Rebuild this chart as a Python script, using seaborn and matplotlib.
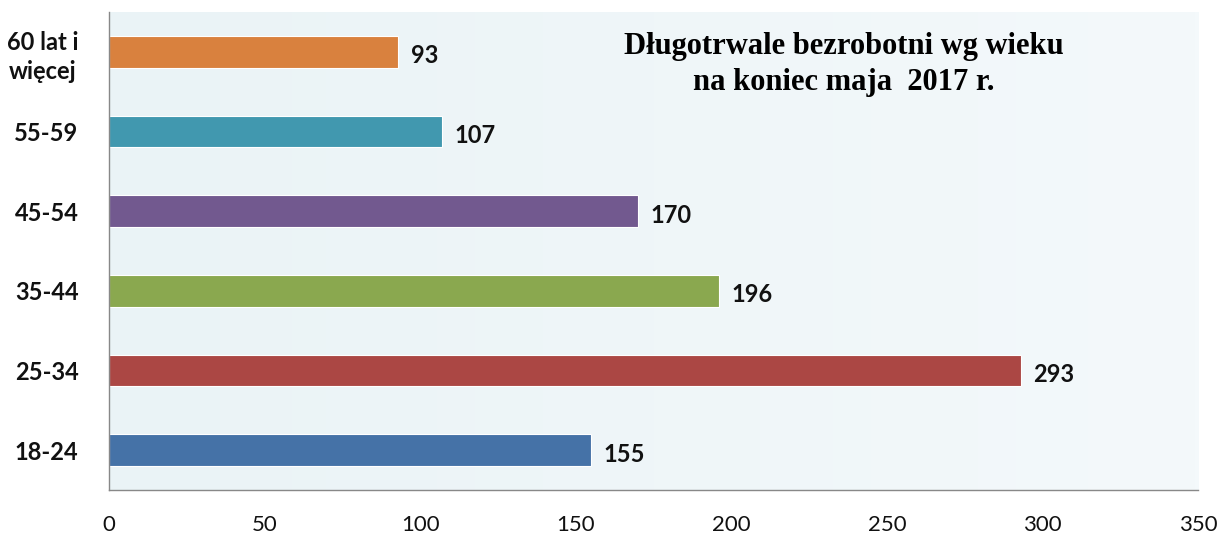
import numpy as np
import pandas as pd
import matplotlib
matplotlib.use('Agg')
import matplotlib.pyplot as plt
import seaborn as sns

# dane z wykresu (od góry do dołu)
grupy_wieku = ['60 lat i\nwięcej', '55-59', '45-54', '35-44', '25-34', '18-24']
liczba_osob = [93, 107, 170, 196, 293, 155]
kolory = ['#d9813e', '#4198af', '#72598f', '#8aa84f', '#ab4744', '#4572a7']
x_ticks = [0, 50, 100, 150, 200, 250, 300, 350]

df = pd.DataFrame({'grupa': grupy_wieku, 'liczba': liczba_osob})

sns.set_style('white')
plt.rcParams['font.family'] = ['Lato', 'DejaVu Sans']

fig = plt.figure(figsize=(12.19, 5.35), dpi=100)
ax = fig.add_axes([0.0894, 0.0841, 0.8934, 0.8935])

# tło z delikatnym gradientem
grad = np.linspace(0, 1, 256).reshape(1, -1)
ax.imshow(grad, extent=[0, 1, 0, 1], transform=ax.transAxes, aspect='auto',
          cmap=matplotlib.colors.LinearSegmentedColormap.from_list('bg', ['#eaf3f6', '#f4f9fb']),
          zorder=0)

sns.barplot(data=df, y='grupa', x='liczba', hue='grupa', palette=kolory,
            order=grupy_wieku, width=0.4, legend=False, ax=ax, zorder=2,
            saturation=1, edgecolor='white', linewidth=0.8)

for i, v in enumerate(liczba_osob):
    ax.text(v + 4, i + 0.05, str(v), va='center', ha='left',
            fontsize=17, fontweight='bold', color='#111111')

ax.set_xlim(0, 350)
ax.set_ylim(5.5, -0.5)
ax.set_xticks(x_ticks)
ax.set_xticklabels([str(t) for t in x_ticks], fontsize=16)
ax.set_yticks(range(len(grupy_wieku)))
ax.set_yticklabels(grupy_wieku, fontsize=17, fontweight='bold', linespacing=1.3,
                   multialignment='center')
ax.set_yticks(np.arange(-0.5, 6, 1), minor=True)
ax.tick_params(axis='y', which='major', length=0, pad=22, labelcolor='#111111')
ax.tick_params(axis='y', which='minor', length=7, color='#888888', width=1, direction='out')
ax.tick_params(axis='x', length=10, color='#888888', width=1, direction='out', pad=8,
               labelcolor='#111111')
ax.set_xlabel('')
ax.set_ylabel('')

for s in ['top', 'right']:
    ax.spines[s].set_visible(False)
for s in ['left', 'bottom']:
    ax.spines[s].set_color('#888888')
    ax.spines[s].set_linewidth(1)

ax.text(0.675, 0.89, 'Długotrwale bezrobotni wg wieku\nna koniec maja  2017 r.',
        transform=ax.transAxes, ha='center', va='center', fontsize=22,
        fontweight='bold', family=['Liberation Serif', 'DejaVu Serif'],
        color='black', linespacing=1.35, zorder=3)

plt.savefig('out.png', dpi=100)
